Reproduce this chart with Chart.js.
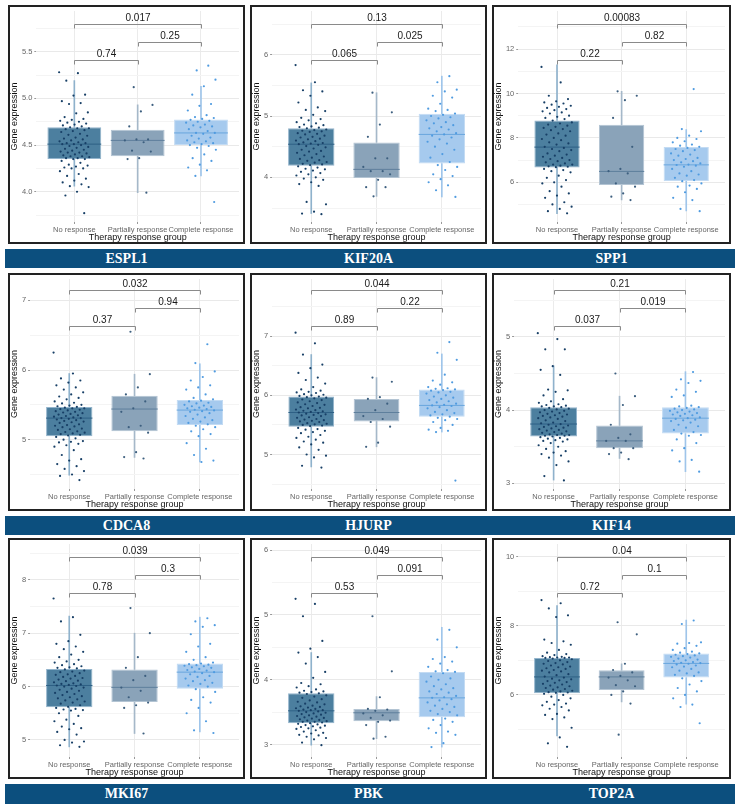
<!DOCTYPE html>
<html><head><meta charset="utf-8">
<script src="https://cdn.jsdelivr.net/npm/chart.js@4.4.1/dist/chart.umd.min.js"></script>
<style>
html,body{margin:0;padding:0;background:#fff;}
body{width:740px;height:812px;position:relative;overflow:hidden;font-family:"Liberation Sans",Arial,sans-serif;}
.frame{position:absolute;border:2px solid #222;box-sizing:border-box;background:#fff;}
.frame canvas{position:absolute;left:0;top:0;}
.banner{position:absolute;left:5px;width:730px;background:#0c4f7e;}
.gene{position:absolute;top:0;color:#fff;font-family:"Liberation Serif","Times New Roman",serif;font-weight:bold;font-size:14px;text-align:center;}
</style></head><body>
<script>
// ---------- categories / titles ----------
const groups = ['No response', 'Partially response', 'Complete response'];
const xTitle = 'Therapy response group';
const yTitle = 'Gene expression';

// ---------- ESPL1 ----------
const espl1Range = [3.676, 5.936];
const espl1Ticks = ['4.0', '4.5', '5.0', '5.5'];
const espl1P = ['0.74', '0.25', '0.017'];
const espl1Box = [[4.06, 4.35, 4.51, 4.69, 5.19], [3.99, 4.38, 4.55, 4.665, 4.93], [4.17, 4.50, 4.63, 4.775, 5.13]];
const espl1NR = [5.28,5.27,5.19,5.04,5.03,4.97,4.95,4.94,4.85,4.84,4.80,4.78,4.77,4.76,4.75,4.74,4.73,4.72,4.71,4.70,
 4.69,4.68,4.68,4.67,4.66,4.65,4.64,4.62,4.61,4.60,4.58,4.57,4.56,4.55,4.54,4.53,4.52,4.52,4.51,4.51,4.50,4.49,4.48,4.47,4.46,4.45,4.44,4.43,4.42,4.42,4.41,4.40,4.39,4.38,4.38,4.37,4.36,4.36,4.35,4.35,
 4.33,4.31,4.29,4.28,4.27,4.26,4.25,4.25,4.22,4.19,4.17,4.14,4.12,4.10,4.08,4.06,4.05,4.00,3.96,3.77];
const espl1PR = [5.12,4.93,4.86,4.70,4.56,4.56,4.55,4.53,4.44,4.43,4.36,4.35,3.99];
const espl1CR = [5.35,5.30,5.20,5.13,5.04,4.94,4.92,4.87,4.82,4.80,4.79,4.78,4.77,4.76,4.75,4.74,4.72,4.71,4.70,4.69,4.67,4.65,4.63,4.63,4.62,4.60,4.58,4.57,4.55,4.54,4.53,4.52,4.51,4.50,4.49,4.47,4.45,4.40,4.36,4.33,4.29,4.26,4.23,4.17,3.89];

// ---------- KIF20A ----------
const kif20aRange = [3.272, 6.712];
const kif20aTicks = ['4', '5', '6'];
const kif20aP = ['0.065', '0.025', '0.13'];
const kif20aBox = [[3.41, 4.19, 4.54, 4.80, 5.54], [3.69, 3.99, 4.13, 4.57, 5.38], [3.68, 4.225, 4.70, 5.035, 5.65]];
const kif20aNR = [5.83,5.55,5.42,5.40,5.33,5.22,5.14,5.10,5.08,5.02,4.97,4.95,4.93,4.90,4.88,4.86,4.85,4.83,4.82,4.81,
 4.80,4.78,4.77,4.76,4.75,4.74,4.72,4.71,4.70,4.68,4.66,4.65,4.63,4.62,4.60,4.59,4.57,4.56,4.55,4.54,4.53,4.51,4.49,4.47,4.45,4.43,4.42,4.40,4.38,4.36,4.34,4.32,4.30,4.28,4.27,4.25,4.24,4.22,4.21,4.20,
 4.18,4.16,4.14,4.13,4.11,4.09,4.07,4.05,4.03,4.00,3.98,3.96,3.92,3.89,3.86,3.60,3.56,3.44,3.41,3.40];
const kif20aPR = [5.38,5.06,4.86,4.66,4.31,4.31,4.17,4.10,4.10,4.05,3.96,3.84,3.84,3.69];
const kif20aCR = [5.65,5.55,5.43,5.40,5.33,5.30,5.20,5.12,5.10,5.08,5.04,5.02,5.00,4.98,4.96,4.93,4.90,4.88,4.85,4.82,4.80,4.78,4.75,4.72,4.70,4.68,4.65,4.62,4.58,4.55,4.50,4.45,4.38,4.32,4.25,4.20,4.17,4.12,4.05,4.02,3.97,3.92,3.87,3.79,3.68];

// ---------- SPP1 ----------
const spp1Range = [4.21, 13.72];
const spp1Ticks = ['6', '8', '10', '12'];
const spp1P = ['0.22', '0.82', '0.00083'];
const spp1Box = [[4.59, 6.67, 7.585, 8.785, 11.29], [5.21, 5.88, 6.49, 8.59, 10.1], [4.71, 6.06, 6.785, 7.585, 8.37]];
const spp1NR = [11.2,10.5,9.9,9.75,9.65,9.6,9.55,9.5,9.45,9.4,9.35,9.3,9.25,9.2,9.15,9.1,9.0,8.95,8.9,8.85,
 8.78,8.7,8.65,8.6,8.55,8.5,8.45,8.4,8.35,8.3,8.2,8.15,8.1,8.0,7.95,7.9,7.8,7.75,7.7,7.6,7.55,7.5,7.45,7.4,7.3,7.25,7.2,7.15,7.1,7.05,7.0,6.95,6.9,6.85,6.8,6.8,6.75,6.72,6.7,6.68,
 6.6,6.55,6.5,6.45,6.3,6.2,6.1,6.0,5.95,5.8,5.6,5.5,5.4,5.3,5.1,5.0,4.9,4.8,4.7,4.6];
const spp1PR = [10.1,9.9,9.7,8.9,7.6,6.6,6.5,6.4,5.95,5.8,5.5,5.35,5.2];
const spp1CR = [10.2,8.4,8.3,8.1,8.0,7.95,7.85,7.8,7.7,7.65,7.6,7.55,7.5,7.45,7.4,7.3,7.25,7.2,7.1,7.05,7.0,6.95,6.9,6.85,6.8,6.78,6.75,6.7,6.6,6.5,6.4,6.35,6.3,6.2,6.1,6.05,5.95,5.85,5.8,5.7,5.55,5.3,5.2,4.8,4.7];

// ---------- CDCA8 ----------
const cdca8Range = [4.292, 7.307];
const cdca8Ticks = ['5', '6', '7'];
const cdca8P = ['0.37', '0.94', '0.032'];
const cdca8Box = [[4.49, 5.05, 5.31, 5.47, 5.95], [4.745, 5.12, 5.44, 5.63, 5.94], [4.68, 5.21, 5.425, 5.57, 6.09]];
const cdca8NR = [6.25,5.95,5.88,5.85,5.82,5.78,5.75,5.72,5.68,5.65,5.62,5.6,5.58,5.55,5.53,5.52,5.5,5.49,5.48,5.47,
 5.46,5.45,5.45,5.44,5.43,5.42,5.41,5.40,5.39,5.38,5.37,5.36,5.35,5.34,5.33,5.32,5.31,5.31,5.30,5.29,5.28,5.27,5.26,5.25,5.24,5.22,5.21,5.20,5.19,5.18,5.16,5.15,5.14,5.12,5.11,5.10,5.09,5.08,5.07,5.06,
 5.04,5.02,5.0,4.98,4.97,4.96,4.94,4.92,4.9,4.85,4.78,4.72,4.70,4.65,4.62,4.58,4.55,4.50,4.48,4.42];
const cdca8PR = [6.55,5.94,5.75,5.65,5.55,5.45,5.40,5.20,5.18,5.10,4.82,4.75,4.73];
const cdca8CR = [6.37,6.1,5.98,5.9,5.85,5.78,5.75,5.72,5.65,5.6,5.58,5.56,5.55,5.53,5.52,5.5,5.49,5.48,5.47,5.46,5.45,5.44,5.43,5.42,5.41,5.4,5.38,5.36,5.34,5.32,5.3,5.28,5.26,5.24,5.22,5.2,5.18,5.15,5.12,5.08,5.05,4.95,4.87,4.78,4.70,4.68];

// ---------- HJURP ----------
const hjurpRange = [4.417, 7.967];
const hjurpTicks = ['5', '6', '7'];
const hjurpP = ['0.89', '0.22', '0.044'];
const hjurpBox = [[4.79, 5.47, 5.71, 5.98, 6.69], [5.13, 5.56, 5.71, 5.94, 6.30], [5.38, 5.64, 5.83, 6.10, 6.70]];
const hjurpNR = [7.06,6.88,6.69,6.52,6.46,6.38,6.3,6.26,6.2,6.14,6.1,6.08,6.06,6.05,6.04,6.02,6.01,6.0,5.99,5.98,
 5.97,5.96,5.95,5.93,5.92,5.9,5.88,5.87,5.85,5.84,5.82,5.8,5.79,5.78,5.76,5.75,5.74,5.73,5.72,5.71,5.70,5.69,5.68,5.67,5.66,5.65,5.63,5.62,5.6,5.59,5.58,5.57,5.56,5.55,5.53,5.52,5.51,5.5,5.49,5.48,
 5.45,5.43,5.42,5.4,5.38,5.36,5.33,5.3,5.28,5.25,5.22,5.2,5.17,5.12,5.08,5.0,4.98,4.95,4.81,4.78];
const hjurpPR = [6.30,6.23,5.97,5.94,5.86,5.75,5.65,5.60,5.55,5.47,5.20,5.13];
const hjurpCR = [6.90,6.72,6.6,6.35,6.25,6.22,6.18,6.14,6.12,6.11,6.10,6.09,6.08,6.06,6.05,6.03,6.0,5.98,5.96,5.94,5.92,5.9,5.88,5.86,5.84,5.83,5.82,5.8,5.78,5.75,5.72,5.7,5.68,5.66,5.64,5.62,5.6,5.58,5.55,5.5,5.45,5.42,5.40,5.38,4.56];

// ---------- KIF14 ----------
const kif14Range = [2.923, 5.79];
const kif14Ticks = ['3', '4', '5'];
const kif14P = ['0.037', '0.019', '0.21'];
const kif14Box = [[3.045, 3.64, 3.81, 4.04, 4.605], [3.34, 3.48, 3.58, 3.79, 4.19], [3.16, 3.68, 3.89, 4.04, 4.525]];
const kif14NR = [5.05,4.97,4.83,4.83,4.6,4.55,4.48,4.28,4.27,4.25,4.2,4.15,4.12,4.1,4.08,4.07,4.06,4.05,4.05,4.04,
 4.03,4.02,4.01,4.0,3.99,3.98,3.97,3.96,3.95,3.94,3.93,3.92,3.91,3.9,3.89,3.88,3.86,3.85,3.83,3.82,3.81,3.80,3.79,3.78,3.77,3.76,3.75,3.74,3.73,3.72,3.71,3.7,3.69,3.68,3.67,3.66,3.66,3.65,3.65,3.64,
 3.63,3.62,3.61,3.6,3.59,3.58,3.57,3.55,3.52,3.5,3.47,3.44,3.42,3.4,3.38,3.35,3.3,3.25,3.1,3.04];
const kif14PR = [4.50,4.19,4.07,3.80,3.67,3.62,3.58,3.58,3.48,3.48,3.42,3.40,3.33];
const kif14CR = [4.52,4.42,4.40,4.37,4.28,4.25,4.2,4.18,4.06,4.05,4.04,4.03,4.02,4.01,4.0,3.99,3.98,3.97,3.96,3.95,3.94,3.93,3.92,3.9,3.89,3.88,3.87,3.86,3.85,3.83,3.8,3.78,3.76,3.73,3.7,3.68,3.66,3.65,3.6,3.55,3.48,3.45,3.32,3.3,3.16];

// ---------- MKI67 ----------
const mki67Range = [4.68, 8.671];
const mki67Ticks = ['5', '6', '7', '8'];
const mki67P = ['0.78', '0.3', '0.039'];
const mki67Box = [[4.87, 5.61, 6.02, 6.33, 7.32], [5.12, 5.71, 5.985, 6.32, 7.0], [5.15, 5.96, 6.27, 6.43, 7.30]];
const mki67NR = [7.65,7.3,7.22,6.97,6.85,6.8,6.75,6.7,6.65,6.6,6.55,6.5,6.47,6.45,6.42,6.4,6.38,6.36,6.35,6.34,
 6.32,6.3,6.28,6.27,6.25,6.23,6.22,6.2,6.18,6.16,6.15,6.13,6.11,6.1,6.08,6.06,6.05,6.04,6.03,6.02,6.01,6.0,5.98,5.96,5.94,5.92,5.9,5.88,5.86,5.84,5.82,5.8,5.78,5.76,5.74,5.72,5.7,5.68,5.65,5.62,
 5.6,5.58,5.57,5.56,5.55,5.5,5.45,5.38,5.35,5.3,5.25,5.22,5.2,5.15,5.1,5.0,4.97,4.95,4.9,4.87];
const mki67PR = [7.47,7.0,6.55,6.35,6.20,6.12,5.98,5.92,5.80,5.70,5.65,5.60,5.12];
const mki67CR = [7.28,7.22,7.15,7.12,6.98,6.8,6.75,6.65,6.55,6.5,6.45,6.43,6.42,6.41,6.4,6.39,6.38,6.36,6.35,6.33,6.31,6.3,6.28,6.27,6.25,6.23,6.2,6.18,6.15,6.12,6.1,6.07,6.05,6.02,6.0,5.95,5.9,5.8,5.75,5.7,5.6,5.5,5.35,5.18,5.13];

// ---------- PBK ----------
const pbkRange = [2.807, 6.096];
const pbkTicks = ['3', '4', '5', '6'];
const pbkP = ['0.53', '0.091', '0.049'];
const pbkBox = [[2.99, 3.33, 3.52, 3.79, 4.42], [3.09, 3.36, 3.49, 3.55, 3.74], [2.96, 3.42, 3.72, 4.12, 4.81]];
const pbkNR = [5.25,5.17,4.98,4.6,4.48,4.42,4.35,4.25,4.12,4.03,3.95,3.93,3.9,3.88,3.85,3.83,3.82,3.81,3.8,3.79,
 3.78,3.76,3.74,3.72,3.7,3.68,3.66,3.65,3.63,3.62,3.6,3.59,3.58,3.57,3.56,3.55,3.54,3.53,3.53,3.52,3.51,3.5,3.49,3.48,3.47,3.46,3.45,3.44,3.43,3.42,3.41,3.4,3.39,3.38,3.37,3.36,3.35,3.35,3.34,3.33,
 3.32,3.31,3.3,3.29,3.28,3.27,3.26,3.25,3.24,3.22,3.2,3.18,3.17,3.15,3.14,3.12,3.1,3.08,3.03,2.99];
const pbkPR = [4.98,4.13,3.73,3.55,3.54,3.52,3.48,3.45,3.41,3.37,3.35,3.30,3.12,3.09];
const pbkCR = [4.77,4.62,4.5,4.35,4.32,4.28,4.25,4.2,4.15,4.13,4.12,4.1,4.05,4.02,4.0,3.97,3.93,3.9,3.87,3.85,3.82,3.8,3.78,3.75,3.73,3.72,3.7,3.68,3.65,3.62,3.6,3.58,3.55,3.52,3.5,3.47,3.45,3.4,3.38,3.35,3.3,3.25,3.2,3.18,3.15,3.02,2.96];

// ---------- TOP2A ----------
const top2aRange = [4.205, 10.362];
const top2aTicks = ['6', '8', '10'];
const top2aP = ['0.72', '0.1', '0.04'];
const top2aBox = [[4.815, 6.05, 6.52, 7.07, 8.58], [5.80, 6.14, 6.52, 6.71, 6.90], [5.73, 6.50, 6.91, 7.20, 8.16]];
const top2aNR = [8.74,8.65,8.5,8.3,8.25,7.6,7.55,7.5,7.45,7.3,7.22,7.18,7.15,7.12,7.1,7.09,7.08,7.08,7.07,7.07,
 7.05,7.03,7.0,6.98,6.95,6.92,6.9,6.88,6.85,6.82,6.8,6.77,6.75,6.72,6.7,6.68,6.65,6.6,6.57,6.53,6.5,6.47,6.45,6.42,6.4,6.37,6.35,6.32,6.3,6.27,6.25,6.22,6.2,6.17,6.15,6.12,6.1,6.08,6.07,6.06,
 6.03,6.0,5.95,5.9,5.85,5.8,5.75,5.72,5.7,5.65,5.6,5.55,5.45,5.42,5.35,5.3,5.05,4.77,4.6,4.5];
const top2aPR = [8.10,7.75,6.90,6.72,6.65,6.55,6.50,6.42,6.28,6.25,6.10,6.00,5.75,4.85];
const top2aCR = [8.15,8.05,7.52,7.5,7.48,7.42,7.35,7.3,7.25,7.22,7.2,7.18,7.16,7.14,7.12,7.1,7.08,7.05,7.02,7.0,6.98,6.95,6.93,6.92,6.9,6.88,6.85,6.82,6.8,6.75,6.7,6.65,6.62,6.58,6.55,6.48,6.4,6.3,6.2,6.1,6.0,5.9,5.72,5.65,5.18];

const panels = [
  {gene: 'ESPL1', box: espl1Box, pts: [espl1NR, espl1PR, espl1CR], p: espl1P, ticks: espl1Ticks, range: espl1Range},
  {gene: 'KIF20A', box: kif20aBox, pts: [kif20aNR, kif20aPR, kif20aCR], p: kif20aP, ticks: kif20aTicks, range: kif20aRange},
  {gene: 'SPP1', box: spp1Box, pts: [spp1NR, spp1PR, spp1CR], p: spp1P, ticks: spp1Ticks, range: spp1Range},
  {gene: 'CDCA8', box: cdca8Box, pts: [cdca8NR, cdca8PR, cdca8CR], p: cdca8P, ticks: cdca8Ticks, range: cdca8Range},
  {gene: 'HJURP', box: hjurpBox, pts: [hjurpNR, hjurpPR, hjurpCR], p: hjurpP, ticks: hjurpTicks, range: hjurpRange},
  {gene: 'KIF14', box: kif14Box, pts: [kif14NR, kif14PR, kif14CR], p: kif14P, ticks: kif14Ticks, range: kif14Range},
  {gene: 'MKI67', box: mki67Box, pts: [mki67NR, mki67PR, mki67CR], p: mki67P, ticks: mki67Ticks, range: mki67Range},
  {gene: 'PBK', box: pbkBox, pts: [pbkNR, pbkPR, pbkCR], p: pbkP, ticks: pbkTicks, range: pbkRange},
  {gene: 'TOP2A', box: top2aBox, pts: [top2aNR, top2aPR, top2aCR], p: top2aP, ticks: top2aTicks, range: top2aRange}
];

// ---------- layout & style ----------
const COL_X = [8, 250, 492], COL_W = [237, 237, 239];
const ROW_Y = [5, 273, 538], ROW_H = [239, 238, 241];
const BANNER_Y = [249, 516, 784], BANNER_H = [19, 19, 20];
const ROW_SHIFT = [0, -2, 0];
const BOX_W = [0.85, 0.71, 0.70, 0.71, 0.70, 0.71, 0.71, 0.71, 0.71];
const FILL = ['#4c7f9f', '#8aa3b9', '#a6caee'];
const EDGE = ['#93b4cc', '#b3c4d3', '#c3dbf3'];
const WHISK = ['#8fb2cc', '#a5b8c9', '#9fc5ea'];
const MED = ['#2e6085', '#5e7f9c', '#69a6dd'];
const PT = ['#173f66', '#3d5f7f', '#4f9be0'];
const jit = (k, g) => ((((k * 0.6180339887) + g * 0.37) % 1) - 0.5) * 0.48;

Chart.defaults.font.family = '"Liberation Sans", Arial, sans-serif';

const bracketPlugin = {
  id: 'brackets',
  afterDatasetsDraw(chart, args, opts) {
    const {ctx, chartArea, scales: {x}} = chart;
    const pv = opts.p, shift = opts.shift || 0;
    const defs = [[1, 3, pv[2], 12.7], [2, 3, pv[1], 30.7], [1, 2, pv[0], 48.7]];
    ctx.save();
    ctx.strokeStyle = '#8a8a8a'; ctx.lineWidth = 1;
    ctx.font = '10px "Liberation Sans", Arial, sans-serif';
    ctx.fillStyle = '#1a1a1a'; ctx.textAlign = 'center'; ctx.textBaseline = 'middle';
    defs.forEach(([a, b, t, off]) => {
      const y = Math.round(chartArea.top + off + shift) + 0.5;
      const x1 = Math.round(x.getPixelForValue(a)) + 0.5, x2 = Math.round(x.getPixelForValue(b)) + 0.5;
      ctx.beginPath(); ctx.moveTo(x1, y + 4); ctx.lineTo(x1, y); ctx.lineTo(x2, y); ctx.lineTo(x2, y + 4); ctx.stroke();
      ctx.fillText(t, (x1 + x2) / 2, y - 6.5);
    });
    ctx.restore();
  }
};

// banners
for (let r = 0; r < 3; r++) {
  const b = document.createElement('div');
  b.className = 'banner';
  b.style.top = BANNER_Y[r] + 'px'; b.style.height = BANNER_H[r] + 'px';
  for (let c = 0; c < 3; c++) {
    const s = document.createElement('div');
    s.className = 'gene';
    s.textContent = panels[r * 3 + c].gene;
    s.style.left = (COL_X[c] - 5) + 'px'; s.style.width = COL_W[c] + 'px';
    s.style.lineHeight = BANNER_H[r] + 'px';
    b.appendChild(s);
  }
  document.body.appendChild(b);
}

panels.forEach((pn, i) => {
  const col = i % 3, row = Math.floor(i / 3);
  const frame = document.createElement('div');
  frame.className = 'frame';
  Object.assign(frame.style, {left: COL_X[col] + 'px', top: ROW_Y[row] + 'px', width: COL_W[col] + 'px', height: ROW_H[row] + 'px'});
  document.body.appendChild(frame);
  const w = COL_W[col] - 4, h = ROW_H[row] - 4;
  const cv = document.createElement('canvas');
  cv.width = w; cv.height = h; cv.style.width = w + 'px'; cv.style.height = h + 'px';
  frame.appendChild(cv);
  const bw = BOX_W[i];
  const datasets = [];
  // lower and upper whiskers (drawn outside the box only)
  datasets.push({type: 'bar', data: pn.box.map((b, g) => ({x: g + 1, y: [b[0], b[1]]})),
    backgroundColor: WHISK, borderWidth: 0, barThickness: 1, grouped: false, order: 5});
  datasets.push({type: 'bar', data: pn.box.map((b, g) => ({x: g + 1, y: [b[3], b[4]]})),
    backgroundColor: WHISK, borderWidth: 0, barThickness: 1, grouped: false, order: 5});
  datasets.push({type: 'bar', data: pn.box.map((b, g) => ({x: g + 1, y: [b[1], b[3]]})),
    backgroundColor: FILL, borderColor: EDGE, borderWidth: 1, borderSkipped: false,
    barPercentage: bw, categoryPercentage: 1, grouped: false, order: 4});
  pn.box.forEach((b, g) => datasets.push({type: 'line', data: [{x: g + 1 - bw / 2, y: b[2]}, {x: g + 1 + bw / 2, y: b[2]}],
    borderColor: MED[g], borderWidth: 1, pointRadius: 0, order: 3}));
  pn.pts.forEach((arr, g) => datasets.push({type: 'scatter', data: arr.map((v, k) => ({x: g + 1 + jit(k, g), y: v})),
    backgroundColor: PT[g], borderWidth: 0, pointRadius: 1.1, order: 2}));

  new Chart(cv, {
    type: 'bar',
    data: {datasets},
    options: {
      responsive: false, animation: false, devicePixelRatio: 1, events: [],
      layout: {padding: {top: 1, right: 1, left: 0, bottom: 0}},
      plugins: {legend: {display: false}, tooltip: {enabled: false}, brackets: {p: pn.p, shift: ROW_SHIFT[row]}},
      scales: {
        x: {
          type: 'linear', min: 0.4, max: 3.6, offset: false,
          grid: {offset: false, color: '#ebebeb', lineWidth: 1, tickLength: 2, tickColor: '#999', drawTicks: true},
          border: {display: false},
          ticks: {autoSkip: false, maxRotation: 0, minRotation: 0, padding: 1, color: '#666', font: {size: 7.5},
            callback: (v, k) => groups[k]},
          title: {display: true, text: xTitle, color: '#111', font: {size: 9, lineHeight: 1.1}, padding: 0},
          afterBuildTicks: s => { s.ticks = [1, 2, 3].map(v => ({value: v})); },
          afterFit: s => { s.height = 20; s.paddingLeft = 0; s.paddingRight = 0; }
        },
        y: {
          type: 'linear', min: pn.range[0], max: pn.range[1], beginAtZero: false,
          grid: {color: c => (c.tick && c.tick.isMajor) ? '#e9e9e9' : '#f4f4f4', lineWidth: 1, tickLength: 2,
            tickColor: c => (c.tick && c.tick.isMajor) ? '#999' : 'rgba(0,0,0,0)'},
          border: {display: false},
          ticks: {autoSkip: false, padding: 2, color: '#666', font: {size: 7.5},
            callback: (v, k, t) => (t[k] && t[k].lbl) || ''},
          title: {display: true, text: yTitle, color: '#111', font: {size: 9, lineHeight: 1.1}, padding: 0},
          afterBuildTicks: s => {
            const labs = pn.ticks, maj = labs.map(Number), step = maj[1] - maj[0];
            const out = [];
            for (let k = -4; k <= (maj.length - 1) * 2 + 4; k++) {
              const v = maj[0] + k * step / 2;
              if (v < s.min - 1e-9 || v > s.max + 1e-9) continue;
              const idx = (k % 2 === 0) ? k / 2 : -1;
              const isMajor = idx >= 0 && idx < labs.length;
              out.push({value: v, isMajor, lbl: isMajor ? labs[idx] : ''});
            }
            s.ticks = out;
          },
          afterFit: s => { s.paddingTop = 0; s.paddingBottom = 0; }
        }
      }
    },
    plugins: [bracketPlugin]
  });
});
</script>
</body></html>
